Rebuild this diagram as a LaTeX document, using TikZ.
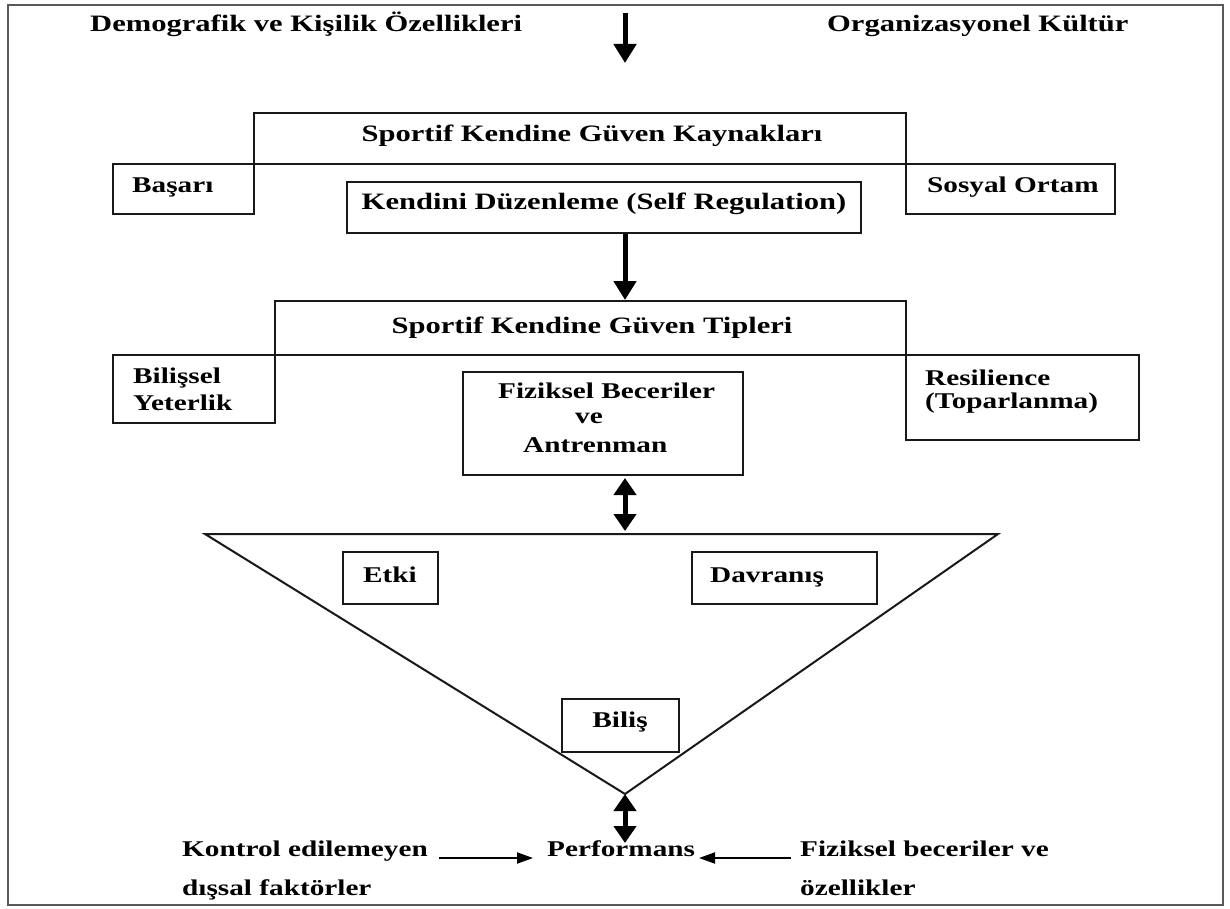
\documentclass[tikz,border=0pt]{standalone}
\usepackage{fontspec}
\setmainfont{Liberation Serif}[FakeStretch=1.3]
\usetikzlibrary{arrows.meta}
\begin{document}
\begin{tikzpicture}[x=1pt,y=-1pt,
  box/.style={draw=black!90, line width=2pt, rectangle, inner sep=0pt},
  txt/.style={inner sep=0pt, font=\fontsize{22.5}{26}\selectfont\bfseries},
  bigtxt/.style={inner sep=0pt, font=\fontsize{23.5}{27}\selectfont\bfseries},
  bigarrow/.style={line width=5pt, -{Triangle[length=19pt,width=22pt]}},
  dblarrow/.style={line width=5pt, {Triangle[length=17pt,width=22pt]}-{Triangle[length=17pt,width=22pt]}},
  smallarrow/.style={line width=2pt, -{Triangle[length=16pt,width=11pt]}},
  frameline/.style={draw=black!65, line width=1.5pt}]
\useasboundingbox (0,0) rectangle (1230,909);
\draw[frameline] (8,5) rectangle (1223,905);

% top labels
\node[bigtxt, anchor=base west] (dem) at (90,32) {Demografik ve Kişilik Özellikleri};
\node[bigtxt, anchor=base west] (org) at (827,32) {Organizasyonel Kültür};
\coordinate (a1s) at (625,13);
\coordinate (a1e) at (625,63);
\draw[bigarrow] (a1s) -- (a1e);

% sources block
\node[box, minimum width=652pt, minimum height=51pt] (kay) at (580,138.5) {};
\node[box, minimum width=141pt, minimum height=50pt] (bas) at (183.5,189) {};
\node[box, minimum width=209pt, minimum height=50pt] (sos) at (1010.5,189) {};
\node[box, minimum width=514pt, minimum height=51pt] (ken) at (604,207.5) {};
\node[bigtxt, anchor=base] (kayt) at (592,142) {Sportif Kendine Güven Kaynakları};
\node[txt, anchor=base west] (bast) at (132,193) {Başarı};
\node[txt, anchor=base west] (sost) at (927,193) {Sosyal Ortam};
\node[bigtxt, anchor=base] (kent) at (604,210) {Kendini Düzenleme (Self Regulation)};

% types block
\node[box, minimum width=631pt, minimum height=54pt] (tip) at (590.5,328) {};
\node[box, minimum width=162pt, minimum height=68pt] (bil) at (194,389) {};
\node[box, minimum width=233pt, minimum height=85pt] (res) at (1022.5,397.5) {};
\node[box, minimum width=280pt, minimum height=103pt] (fiz) at (603,423.5) {};
\node[bigtxt, anchor=base] (tipt) at (592,333) {Sportif Kendine Güven Tipleri};
\node[txt, anchor=base west] (bil1) at (133,383) {Bilişsel};
\node[txt, anchor=base west] (bil2) at (133,410) {Yeterlik};
\node[txt, anchor=base west] (res1) at (925,385) {Resilience};
\node[txt, anchor=base west] (res2) at (925,408) {(Toparlanma)};
\node[txt, anchor=base west] (fiz1) at (498,398) {Fiziksel Beceriler};
\node[txt, anchor=base west] (fiz2) at (575,423) {ve};
\node[txt, anchor=base west] (fiz3) at (523,452) {Antrenman};

% triangle
\coordinate (t1) at (205,534);
\coordinate (t2) at (998,534);
\coordinate (apex) at (625,794);
\draw[line width=2pt, draw=black!90, line join=miter] (t1) -- (t2) -- (apex) -- cycle;
\node[box, minimum width=95pt, minimum height=52pt] (etk) at (390.5,578) {};
\node[box, minimum width=185pt, minimum height=52pt] (dav) at (784.5,578) {};
\node[box, minimum width=117pt, minimum height=53pt] (bls) at (620.5,725.5) {};
\node[txt, anchor=base] (etkt) at (390,582) {Etki};
\node[txt, anchor=base west] (davt) at (710,582) {Davranış};
\node[txt, anchor=base] (blst) at (620,727) {Biliş};

% arrows between blocks
\draw[bigarrow] (ken.south -| apex) -- (tip.north -| apex);
\draw[dblarrow, shorten <=2pt, shorten >=3pt] (fiz.south -| apex) -- (t1 -| apex);

% bottom
\node[txt, anchor=base west] (perf) at (547,856) {Performans};
\node[txt, anchor=base west] (kon1) at (182,856) {Kontrol edilemeyen};
\node[txt, anchor=base west] (kon2) at (182,895) {dışsal faktörler};
\node[txt, anchor=base west] (fb1) at (800,856) {Fiziksel beceriler ve};
\node[txt, anchor=base west] (fb2) at (800,895) {özellikler};
\coordinate (pt) at (625,843);
\draw[dblarrow] (apex) -- (pt);
\coordinate (la) at (439,858);
\coordinate (lae) at (533,858);
\coordinate (ra) at (791,858);
\coordinate (rae) at (699,858);
\draw[smallarrow] (la) -- (lae);
\draw[smallarrow] (ra) -- (rae);
\end{tikzpicture}
\end{document}
